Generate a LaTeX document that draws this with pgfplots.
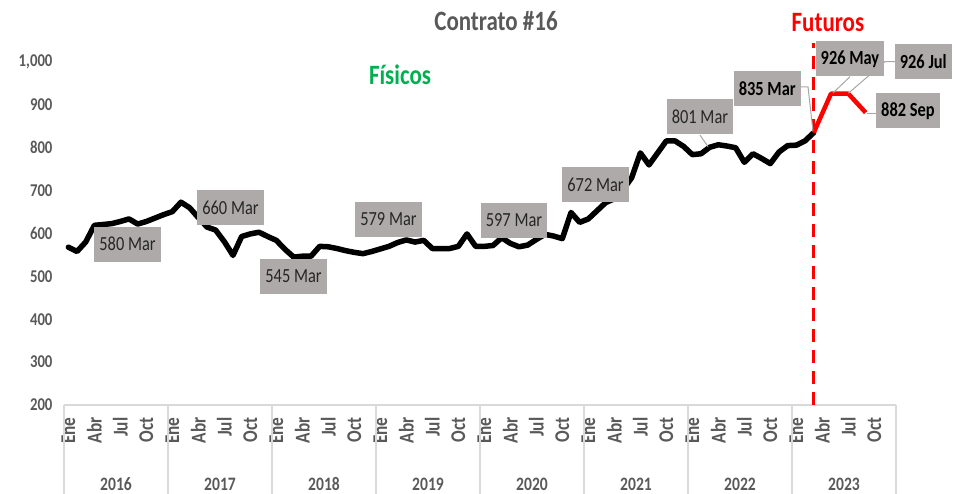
\documentclass[border=0pt]{standalone}
\usepackage{pgfplots}
\pgfplotsset{compat=1.18}
\usepackage{pgfplotstable}
\usepackage{fontspec}
\setmainfont{Carlito}[FakeStretch=0.82]
\definecolor{tickgray}{HTML}{595959}
\definecolor{boxgray}{HTML}{AEAAAA}
\definecolor{sepgray}{HTML}{D9D9D9}
\definecolor{leadgray}{HTML}{A6A6A6}
\definecolor{fisgreen}{HTML}{00B050}
\definecolor{futred}{HTML}{FF0000}
\tikzset{
  labbox/.style={fill=boxgray, inner xsep=5pt, inner ysep=0pt, minimum height=35pt, font=\fontsize{20}{22}\selectfont, text=black!85},
  labboxb/.style={labbox, font=\bfseries\fontsize{20}{22}\selectfont, text=black},
}
\pgfplotstableread{
m v
0 568
1 558
2 580
3 619
4 621
5 623
6 628
7 634
8 622
9 628
10 636
11 644
12 651
13 673
14 660
15 637
16 615
17 608
18 581
19 549
20 593
21 599
22 603
23 593
24 584
25 563
26 545
27 547
28 547
29 570
30 569
31 565
32 560
33 556
34 553
35 558
36 564
37 570
38 579
39 585
40 580
41 584
42 565
43 565
44 565
45 570
46 599
47 570
48 570
49 572
50 590
51 577
52 569
53 573
54 586
55 598
56 594
57 588
58 649
59 626
60 634
61 653
62 672
63 681
64 702
65 730
66 788
67 760
68 788
69 816
70 816
71 803
72 784
73 786
74 801
75 807
76 804
77 800
78 766
79 786
80 775
81 763
82 790
83 805
84 806
85 816
86 835
}\fisicos
\pgfplotstableread{
m v
86 835
88 926
90 926
92 882
}\futuros
\begin{document}
\begin{tikzpicture}
\path[use as bounding box] (0pt,0pt) rectangle (955pt,494pt);
\begin{axis}[
  at={(64pt,89pt)}, anchor=south west,
  scale only axis, width=832pt, height=343pt,
  xmin=-0.5, xmax=95.5, ymin=200, ymax=1000,
  clip=false,
  axis x line*=bottom, axis y line*=left,
  y axis line style={draw=none},
  x axis line style={sepgray, line width=1.2pt},
  major tick length=0pt,
  ytick={200,300,...,1000},
  /pgf/number format/assume math mode=true,
  /pgf/number format/1000 sep={,},
  yticklabel={\pgfmathprintnumber{\tick}},
  yticklabel style={font=\bfseries\fontsize{18}{20}\selectfont, text=tickgray, xshift=-8pt},
  xtick={0,3,...,93},
  xticklabels={Ene,Abr,Jul,Oct,Ene,Abr,Jul,Oct,Ene,Abr,Jul,Oct,Ene,Abr,Jul,Oct,Ene,Abr,Jul,Oct,Ene,Abr,Jul,Oct,Ene,Abr,Jul,Oct,Ene,Abr,Jul,Oct},
  xticklabel style={yshift=-9pt, rotate=90, anchor=east, font=\bfseries\fontsize{21}{23}\selectfont, text=tickgray},
]
% year separators
\foreach \xs in {-0.5,11.5,23.5,35.5,47.5,59.5,71.5,83.5,95.5}{
  \edef\tmp{\noexpand\draw[sepgray, line width=1.2pt] (axis cs:\xs,200) -- (axis cs:\xs,-9);}\tmp
}
\foreach \yr/\xc in {2016/5.5,2017/17.5,2018/29.5,2019/41.5,2020/53.5,2021/65.5,2022/77.5,2023/89.5}{
  \edef\tmp{\noexpand\node[font=\noexpand\bfseries\noexpand\fontsize{19}{21}\noexpand\selectfont, text=tickgray] at (axis cs:\xc,15.7) {\yr};}\tmp
}
% dashed separator
\addplot[futred, line width=3.5pt, dash pattern=on 13pt off 8pt, forget plot] coordinates {(86,200) (86,1044)};
% series
\addplot[black, line width=5.5pt, line join=round, line cap=round] table[x=m, y=v] {\fisicos};
\addplot[futred, line width=4.5pt, line join=round] table[x=m, y=v] {\futuros};
% leader lines
\draw[leadgray, line width=1pt] (axis cs:84.5,941.7) -- (axis cs:85.35,941.7) -- (axis cs:85.92,839);
\draw[leadgray, line width=1pt] (axis cs:90.19,965.7) -- (axis cs:88.23,927.7);
\draw[leadgray, line width=1pt] (axis cs:95.38,1000.7) -- (axis cs:94.23,1000.7) -- (axis cs:90.0,927);
\draw[leadgray, line width=1pt] (axis cs:93.27,881) -- (axis cs:92.12,881);
\draw[leadgray, line width=1pt] (axis cs:72.88,829.7) -- (axis cs:73.81,802.5);
% data labels
\node[labbox] at (axis cs:6.83,575.5) {580 Mar};
\node[labbox] at (axis cs:18.71,660.6) {660 Mar};
\node[labbox] at (axis cs:25.98,499.7) {545 Mar};
\node[labbox] at (axis cs:36.94,633.8) {579 Mar};
\node[labbox] at (axis cs:51.42,630.3) {597 Mar};
\node[labbox] at (axis cs:60.83,714.3) {672 Mar};
\node[labbox] at (axis cs:72.88,872.9) {801 Mar};
\node[labboxb] at (axis cs:80.65,938.7) {835 Mar};
\node[labboxb] at (axis cs:90.19,1007.5) {926 May};
\node[labboxb] at (axis cs:98.65,1001.2) {926 Jul};
\node[labboxb] at (axis cs:96.88,886.2) {882 Sep};
% titles
\node[font=\bfseries\fontsize{28}{30}\selectfont, text=tickgray] at (axis cs:49.35,1095.6) {Contrato \#16};
\node[font=\bfseries\fontsize{28}{30}\selectfont, text=fisgreen] at (axis cs:38.27,969.7) {Físicos};
\node[font=\bfseries\fontsize{28}{30}\selectfont, text=futred] at (axis cs:87.65,1091) {Futuros};
\end{axis}
\end{tikzpicture}
\end{document}
